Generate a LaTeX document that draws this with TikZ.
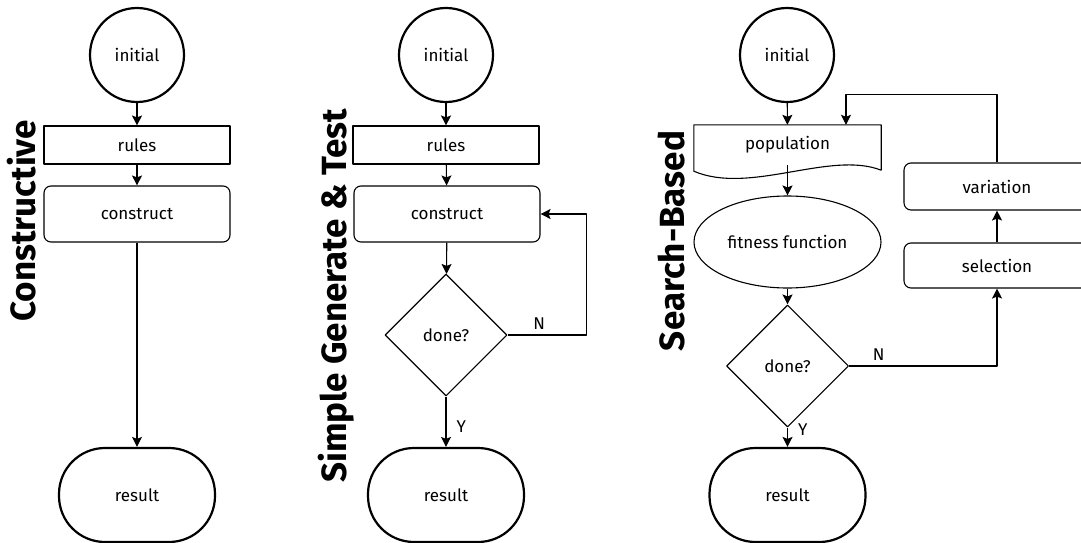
\documentclass[tikz,border=0pt]{standalone}
\usepackage{fontspec}
\setmainfont{Fira Sans}
\usetikzlibrary{shapes.geometric,arrows.meta,calc}

\begin{document}
\begin{tikzpicture}[x=1pt, y=-1pt, line join=round, >={Stealth[length=10pt,width=10pt,inset=2pt]},
		font=\fontsize{17}{19}\selectfont,
		every node/.style={inner sep=0pt},
		start/.style={circle, draw, line width=2.2pt, minimum size=94pt},
		stop/.style={draw, line width=2.2pt, rounded corners=46pt, minimum width=156pt, minimum height=94pt},
		box/.style={draw, line width=1.1pt, minimum width=186pt},
		rbox/.style={box, rounded corners=7pt},
		test/.style={diamond, draw, line width=1.1pt, minimum size=122pt, aspect=1},
		title/.style={rotate=90, font=\fontsize{35}{37}\selectfont\bfseries},
		arr/.style={->, line width=1.1pt}]
	\useasboundingbox (0,0) rectangle (1081,543);
	\clip (0,0) rectangle (1081,543);
	% constructive
	\node[title] (t1) at (22,221) {Constructive};
	\node[start] (i1) at (137,55) {initial};
	\node[box, minimum height=38pt] (r1) at (137,145) {rules};
	\node[rbox, minimum height=56pt] (c1) at (137,214) {construct};
	\node[stop] (e1) at (137,495) {result};
	\draw[arr] (i1) -- (r1);
	\draw[arr] (r1) -- (c1);
	\draw[arr] (c1) -- (e1);
	% generate and test
	\node[title] (t2) at (336,296) {Simple Generate \& Test};
	\node[start] (i2) at (446,55) {initial};
	\node[box, minimum height=38pt] (r2) at (446,145) {rules};
	\node[rbox, minimum height=56pt] (c2) at (447,214) {construct};
	\node[test] (d2) at (446,335) {done?};
	\node[stop] (e2) at (446,495) {result};
	\draw[arr] (i2) -- (r2);
	\draw[arr] (r2) -- (c2);
	\draw[arr] (c2) -- (d2);
	\draw[arr] (d2) -- node[pos=.6, right=10pt] {Y} (e2);
	\draw[arr] (d2.east) -- node[pos=.4, above=5pt] {N} ++(79,0) |- (c2.east);
	% search-based
	\node[title] (t3) at (672,241) {Search-Based};
	\node[start] (i3) at (787,55) {initial};
	\node[minimum width=187pt, minimum height=40pt] (p3) at (787.5,145) {population};
	\draw[line width=1.1pt] (p3.north west) -- (p3.north east) -- ($(p3.south east)+(0,5)$)
		.. controls +(-51,-20) and +(56,24) .. ($(p3.south west)+(0,6)$) -- cycle;
	\node[ellipse, draw, line width=1.1pt, minimum width=187pt, minimum height=92pt] (f3) at (787.5,242) {fitness function};
	\node[test] (d3) at (787.5,366) {done?};
	\node[stop] (e3) at (787.5,495) {result};
	\node[rbox, minimum height=45pt] (s3) at (997,265.5) {selection};
	\node[rbox, minimum height=47pt] (v3) at (997,186.5) {variation};
	\draw[arr] (i3) -- (p3);
	\draw[arr] (p3) -- (f3);
	\draw[arr] (f3) -- (d3);
	\draw[arr] (d3) -- node[pos=.1, right=10pt] {Y} (e3);
	\draw[arr] (d3.east) -| node[pos=.1, above=5pt] {N} (s3.south);
	\draw[arr] (s3) -- (v3);
	\draw[arr] (v3.north) -- ++(0,-68) -| ([xshift=58.5pt]p3.north);
\end{tikzpicture}
\end{document}
